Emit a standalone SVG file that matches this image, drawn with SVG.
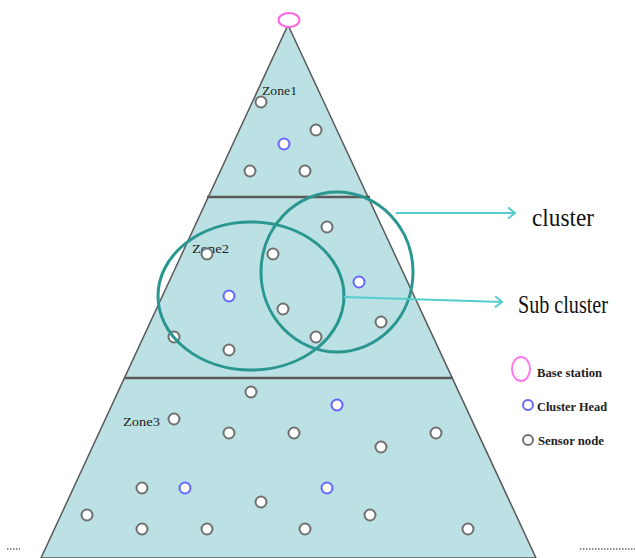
<svg xmlns="http://www.w3.org/2000/svg" width="635" height="558" viewBox="0 0 635 558">
<style>
.sn{fill:#fff;stroke:#707070;stroke-width:2}
.ch{fill:#fff;stroke:#6666ff;stroke-width:2}
.zone{font-family:"Liberation Serif",serif;font-size:13px;fill:#222}
.big{font-family:"Liberation Serif",serif;font-size:25px;fill:#111}
.leg{font-family:"Liberation Serif",serif;font-size:12px;font-weight:bold;fill:#222}
.sep{stroke:#5a5a5a;stroke-width:2.5}
.ell{fill:none;stroke:#2a9690;stroke-width:3}
.arr{stroke:#55cdd0;stroke-width:2;fill:none}
</style>
<defs>
<marker id="ah" markerWidth="10" markerHeight="12" refX="8" refY="6" orient="auto" markerUnits="userSpaceOnUse">
<path d="M1,0.5 L8,6 L1,11.5" fill="none" stroke="#55cdd0" stroke-width="2"/>
</marker>
</defs>
<rect width="635" height="558" fill="#fff"/>
<g id="pyramid">
<polygon points="288,25 536,558 41,558" fill="#bbe1e4" stroke="#5a5a5a" stroke-width="1.5"/>
<line class="sep" x1="207" y1="197" x2="370" y2="197"/>
<line class="sep" x1="124" y1="378" x2="453" y2="378"/>
</g>
<g id="base-station">
<ellipse cx="289" cy="20" rx="10.5" ry="7" fill="#fff" stroke="#ff66dd" stroke-width="2"/>
</g>
<g id="zone1">
<text class="zone" x="262" y="95" textLength="35" lengthAdjust="spacingAndGlyphs">Zone1</text>
<circle class="sn" cx="261" cy="102" r="5.5"/>
<circle class="sn" cx="316" cy="130" r="5.5"/>
<circle class="ch" cx="284" cy="144" r="5.5"/>
<circle class="sn" cx="250" cy="171" r="5.5"/>
<circle class="sn" cx="305" cy="171" r="5.5"/>
</g>
<g id="zone2">
<text class="zone" x="192" y="253" textLength="37" lengthAdjust="spacingAndGlyphs">Zone2</text>
<circle class="sn" cx="327" cy="227" r="5.5"/>
<circle class="sn" cx="207" cy="254" r="5.5"/>
<circle class="sn" cx="273" cy="254" r="5.5"/>
<circle class="ch" cx="229" cy="296" r="5.5"/>
<circle class="ch" cx="359" cy="282" r="5.5"/>
<circle class="sn" cx="283" cy="309" r="5.5"/>
<circle class="sn" cx="381" cy="322" r="5.5"/>
<circle class="sn" cx="174" cy="337" r="5.5"/>
<circle class="sn" cx="316" cy="337" r="5.5"/>
<circle class="sn" cx="229" cy="350" r="5.5"/>
</g>
<g id="clusters">
<ellipse class="ell" cx="251" cy="296" rx="93" ry="74"/>
<ellipse class="ell" cx="337" cy="272" rx="76" ry="80"/>
</g>
<g id="zone3">
<text class="zone" x="123" y="426" textLength="37" lengthAdjust="spacingAndGlyphs">Zone3</text>
<circle class="sn" cx="251" cy="392" r="5.5"/>
<circle class="ch" cx="337" cy="405" r="5.5"/>
<circle class="sn" cx="174" cy="419" r="5.5"/>
<circle class="sn" cx="229" cy="433" r="5.5"/>
<circle class="sn" cx="294" cy="433" r="5.5"/>
<circle class="sn" cx="436" cy="433" r="5.5"/>
<circle class="sn" cx="381" cy="447" r="5.5"/>
<circle class="sn" cx="142" cy="488" r="5.5"/>
<circle class="ch" cx="185" cy="488" r="5.5"/>
<circle class="ch" cx="327" cy="488" r="5.5"/>
<circle class="sn" cx="261" cy="502" r="5.5"/>
<circle class="sn" cx="87" cy="515" r="5.5"/>
<circle class="sn" cx="370" cy="515" r="5.5"/>
<circle class="sn" cx="142" cy="529" r="5.5"/>
<circle class="sn" cx="207" cy="529" r="5.5"/>
<circle class="sn" cx="305" cy="529" r="5.5"/>
<circle class="sn" cx="468" cy="529" r="5.5"/>
</g>
<g id="connectors">
<line class="arr" x1="396" y1="213" x2="515" y2="213" marker-end="url(#ah)"/>
<line class="arr" x1="344" y1="297" x2="502" y2="302" marker-end="url(#ah)"/>
</g>
<g id="labels">
<text class="big" x="532" y="226" textLength="62" lengthAdjust="spacingAndGlyphs">cluster</text>
<text class="big" x="518" y="313" textLength="90" lengthAdjust="spacingAndGlyphs">Sub cluster</text>
</g>
<g id="legend">
<ellipse cx="521" cy="369" rx="9" ry="12" fill="#fff" stroke="#ff77ee" stroke-width="2"/>
<text class="leg" x="537" y="377" textLength="65" lengthAdjust="spacingAndGlyphs">Base station</text>
<circle class="ch" cx="528" cy="405" r="5"/>
<text class="leg" x="537" y="411" textLength="70" lengthAdjust="spacingAndGlyphs">Cluster Head</text>
<circle class="sn" cx="528" cy="440" r="5"/>
<text class="leg" x="538" y="445" textLength="66" lengthAdjust="spacingAndGlyphs">Sensor node</text>
</g>
<g id="dots">
<line x1="7" y1="549" x2="20" y2="549" stroke="#666" stroke-width="1.5" stroke-dasharray="1.5,1.5"/>
<line x1="580" y1="549" x2="635" y2="549" stroke="#666" stroke-width="1.5" stroke-dasharray="1.5,1.5"/>
</g>
</svg>
